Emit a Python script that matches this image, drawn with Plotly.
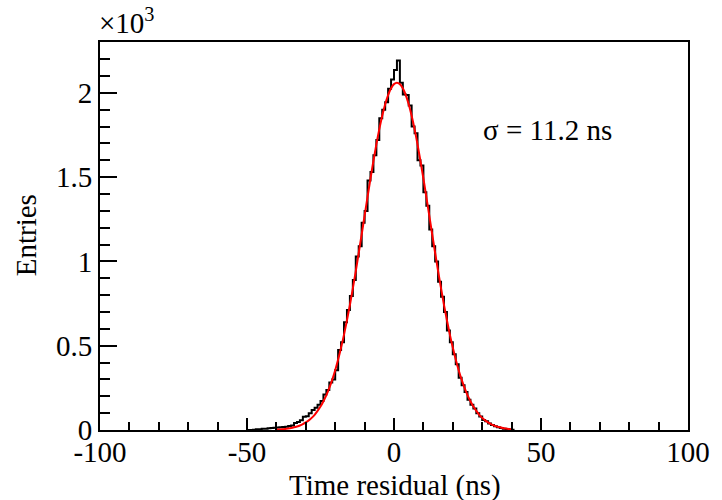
import plotly.graph_objects as go

# Histogram: 1 ns bins, left edges from -50 to 40 (ns)
bin_left_edges = list(range(-50, 41))
bin_counts = [
    0, 0, 2, 4, 5, 8, 7, 10, 12, 14,          # -50 .. -41
    15, 16, 18, 20, 23, 26, 42, 47, 58, 78,   # -40 .. -31
    82, 100, 118, 132, 150, 172, 210, 238, 282, 300,  # -30 .. -21
    355, 475, 520, 640, 712, 795, 890, 1030, 1090, 1230,  # -20 .. -11
    1300, 1480, 1530, 1630, 1720, 1850, 1900, 1945, 2025, 2080,  # -10 .. -1
    2136, 2192, 2060, 1990, 1988, 1925, 1800, 1760, 1600, 1570,  # 0 .. 9
    1410, 1330, 1190, 1090, 1000, 880, 790, 700, 590, 520,  # 10 .. 19
    450, 390, 310, 265, 225, 180, 150, 128, 100, 80,  # 20 .. 29
    60, 52, 38, 30, 22, 16, 12, 8, 6, 3,  # 30 .. 39
    2,  # 40
]

# Fit curve (x in ns, y in entries)
fit_x = list(range(-40, 41))
fit_y = [
    2.5, 3.5, 4.8, 6.5, 9, 12, 16, 21, 27, 35,
    45, 57, 72, 90, 113, 139, 171, 207, 250, 299,
    355, 418, 489, 566, 651, 742, 840, 943, 1050, 1160,
    1272, 1383, 1492, 1596, 1695, 1785, 1865, 1933, 1987, 2027,
    2052, 2060, 2052, 2027, 1987, 1933, 1865, 1785, 1695, 1596,
    1492, 1383, 1272, 1160, 1050, 943, 840, 742, 651, 566,
    489, 418, 355, 299, 250, 207, 171, 139, 113, 90,
    72, 57, 45, 35, 27, 21, 16, 12, 9, 6.5,
    4.8,
]

y_tick_vals = [0, 500, 1000, 1500, 2000]
y_tick_text = ["0", "0.5", "1", "1.5", "2"]
x_tick_vals = [-100, -50, 0, 50, 100]
x_tick_text = ["-100", "-50", "0", "50", "100"]

FONT = "Liberation Serif, Times New Roman, serif"
FS = 29

hx = bin_left_edges + [bin_left_edges[-1] + 1]
hy = bin_counts + [bin_counts[-1]]

fig = go.Figure()
fig.add_trace(go.Scatter(x=hx, y=hy, mode="lines", line=dict(shape="hv", color="black", width=2),
                         showlegend=False, hoverinfo="skip"))
fig.add_trace(go.Scatter(x=fit_x, y=fit_y, mode="lines", line=dict(shape="spline", color="#ff0000", width=2),
                         showlegend=False, hoverinfo="skip"))

fig.update_layout(
    width=722, height=500,
    margin=dict(l=100, r=24, t=42, b=70),
    paper_bgcolor="white", plot_bgcolor="white",
    font=dict(family=FONT, size=FS, color="black"),
    xaxis=dict(range=[-100, 100], showgrid=False, zeroline=False,
               showline=True, linecolor="black", linewidth=2, mirror=True,
               ticks="inside", ticklen=12, tickwidth=1.5, tickcolor="black",
               tickvals=x_tick_vals, ticktext=x_tick_text, ticklabelstandoff=-5,
               tickfont=dict(family=FONT, size=FS, color="black"),
               minor=dict(ticks="inside", ticklen=8, tickwidth=1.5, tickcolor="black", dtick=10, tick0=0, showgrid=False)),
    yaxis=dict(range=[0, 2302], showgrid=False, zeroline=False,
               showline=True, linecolor="black", linewidth=2, mirror=True,
               ticks="inside", ticklen=17, tickwidth=1.5, tickcolor="black",
               tickvals=y_tick_vals, ticktext=y_tick_text,
               tickfont=dict(family=FONT, size=FS, color="black"),
               minor=dict(ticks="inside", ticklen=10, tickwidth=1.5, tickcolor="black", dtick=100, tick0=0, showgrid=False)),
    annotations=[
        dict(text="Time residual (ns)", xref="paper", yref="paper", x=0.5017, y=-0.1418,
             xanchor="center", yanchor="middle", showarrow=False, font=dict(family=FONT, size=FS)),
        dict(text="Entries", xref="paper", yref="paper", x=-0.1254, y=0.5026, textangle=-90,
             xanchor="center", yanchor="middle", showarrow=False, font=dict(family=FONT, size=FS)),
        dict(text="σ = 11.2 ns", xref="paper", yref="paper", x=0.7615, y=0.773,
             xanchor="center", yanchor="middle", showarrow=False, font=dict(family=FONT, size=FS)),
        dict(text="×10<sup>3</sup>", xref="paper", yref="paper", x=-0.005, y=1.055,
             xanchor="left", yanchor="middle", showarrow=False, font=dict(family=FONT, size=FS)),
    ],
)

fig.write_html("out.html")
